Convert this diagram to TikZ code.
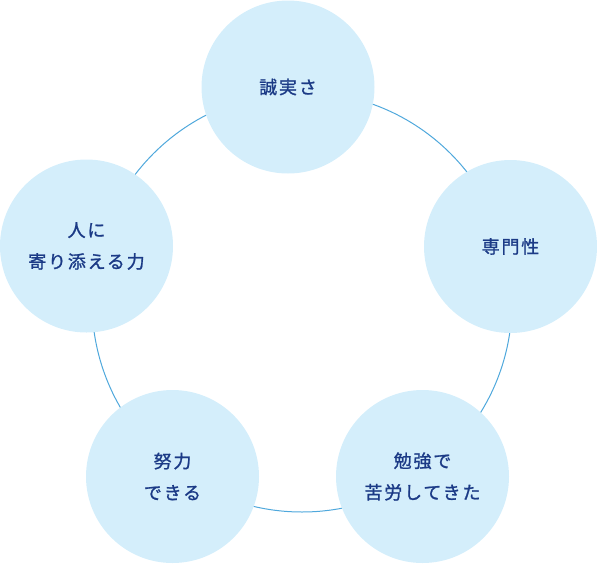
\documentclass[tikz,border=0pt]{standalone}
\usepackage{fontspec}
\newfontfamily\jp{Noto Sans CJK JP}[LetterSpace=10, FakeBold=1.2]
\usepackage{tikz}
\usetikzlibrary{positioning}

\definecolor{bubblefill}{HTML}{D4EEFB}
\definecolor{ringline}{HTML}{4FA8DC}
\definecolor{labeltext}{HTML}{1B3A86}

\begin{document}
\begin{tikzpicture}[
    x=1pt, y=-1pt,
    bubble/.style={circle, fill=bubblefill, minimum size=173pt, inner sep=0pt, align=center, text=labeltext, font={\jp\fontsize{18}{31.5}\selectfont}},
    ring/.style={draw=ringline, line width=1pt}
]
    \useasboundingbox (0,0) rectangle (597,563);
    \coordinate (hub) at (302,302);
    \draw[ring] (hub) circle (210pt);

    \node[bubble] (honesty) at (288,87) {誠実さ};
    \node[bubble] (expertise) at (510.5,246.5) {専門性};
    \node[bubble] (study) at (422.5,476.5) {勉強で\\苦労してきた};
    \node[bubble] (effort) at (172.5,476.5) {努力\\できる};
    \node[bubble] (empathy) at (86.5,246) {人に\\寄り添える力};
\end{tikzpicture}
\end{document}
